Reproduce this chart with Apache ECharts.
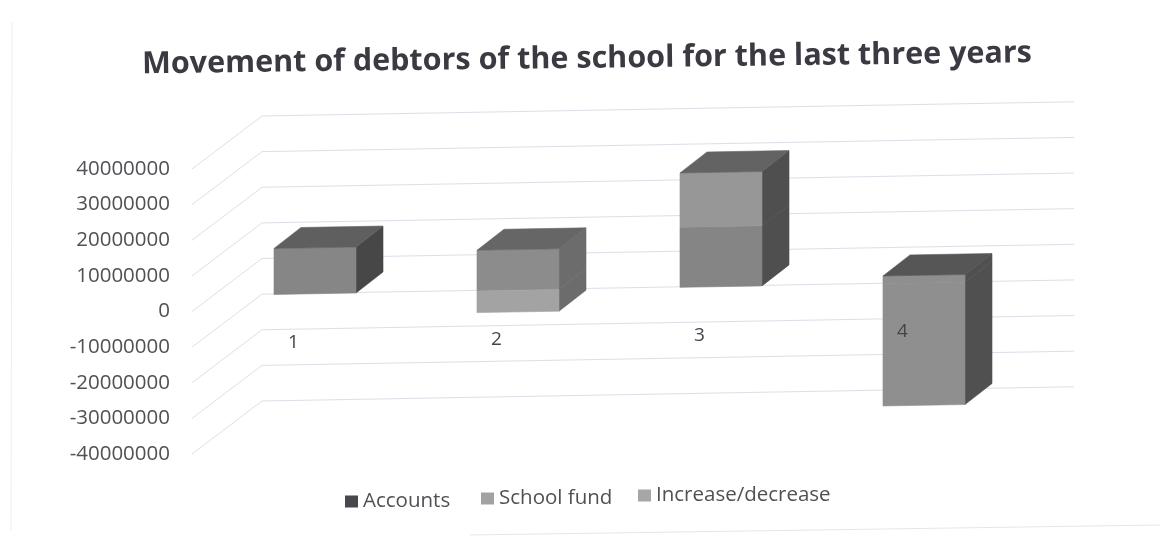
<!DOCTYPE html>
<html><head><meta charset="utf-8">
<style>html,body{margin:0;padding:0;background:#fff}#c{width:1160px;height:536px}</style>
<script src="https://cdn.jsdelivr.net/npm/echarts@6/dist/echarts.min.js"></script>
</head><body><div id="c"></div>
<script>
const titleText = 'Movement of debtors of the school for the last three years';
const categories = ['1','2','3','4'];
const accounts = [0,0,0,0];
const schoolFund = [12900000,11400000,16900000,2200000];
const increaseDecrease = [0,-6100000,15200000,-34300000];
const yTicks = [40000000,30000000,20000000,10000000,0,-10000000,-20000000,-30000000,-40000000];

const schoolFront = ['#868686','#8c8c8c','#858585','#8f8f8f'];
const increaseFront = ['#9a9a9a','#a3a3a3','#979797','#8f8f8f'];
const topFaces = ['#5f5f5f','#666666','#636363','#565656'];
const sideFaces = ['#474747','#6c6c6c','#4f4f4f','#505050'];

const FONT = '"Open Sans","Noto Sans",sans-serif';
const SKEW = 0.0175;
const WALL = [70,-53];
const NEAR = [21.5,-16];
const FAR = [48.5,-37];
const BAR_RATIO = 0.404;

const named = [
  {name:'Accounts', values:accounts, color:'#47474c', front:schoolFront},
  {name:'School fund', values:schoolFund, color:'#a2a2a5', front:schoolFront},
  {name:'Increase/decrease', values:increaseDecrease, color:'#a6a6a8', front:increaseFront}
];
const posTop = categories.map(()=>0), negBottom = categories.map(()=>0);
named.forEach(s=>{
  s.rows = s.values.map((v,i)=>{
    if(v>=0){const a=posTop[i];posTop[i]+=v;return [i,a,a+v];}
    const a=negBottom[i];negBottom[i]+=v;return [i,a,a+v];
  });
});
function renderBar(front){
  return function(params,api){
    const i=api.value(0),a=api.value(1),b=api.value(2);
    if(a===b) return null;
    const left=params.coordSys.x;
    const half=api.size([1,0])[0]*BAR_RATIO/2;
    const lo=Math.min(a,b),hi=Math.max(a,b);
    const pt=(val,dx,off)=>{
      const p=api.coord([i,val]);const x=p[0]+dx;
      return [x+off[0],p[1]-SKEW*(x-left)+off[1]];
    };
    const poly=(pts,fill)=>({type:'polygon',shape:{points:pts},style:{fill:fill,stroke:fill,lineWidth:0.6},silent:true});
    const children=[
      poly([pt(lo,half,NEAR),pt(hi,half,NEAR),pt(hi,half,FAR),pt(lo,half,FAR)],sideFaces[i]),
      poly([pt(lo,-half,NEAR),pt(hi,-half,NEAR),pt(hi,half,NEAR),pt(lo,half,NEAR)],front[i])
    ];
    if(hi===posTop[i]){
      children.push(poly([pt(hi,-half,NEAR),pt(hi,half,NEAR),pt(hi,half,FAR),pt(hi,-half,FAR)],topFaces[i]));
    }
    return {type:'group',children:children};
  };
}
const series=[{
  type:'custom',name:'walls',coordinateSystem:'cartesian2d',silent:true,clip:false,z:1,
  data:yTicks.map(t=>[0,t]),encode:{x:0,y:1},
  renderItem(params,api){
    const x0=params.coordSys.x,w=params.coordSys.width;
    const y=api.coord([0,api.value(1)])[1];
    return {type:'polyline',shape:{points:[[x0,y],[x0+WALL[0],y+WALL[1]],[x0+w+WALL[0],y+WALL[1]-SKEW*w]]},
      style:{stroke:'#dedee8',lineWidth:1,fill:null},silent:true};
  }
}];
named.forEach(s=>series.push({
  type:'custom',name:s.name,coordinateSystem:'cartesian2d',silent:true,clip:false,z:2,
  itemStyle:{color:s.color},data:s.rows,encode:{x:0,y:[1,2]},renderItem:renderBar(s.front)
}));
series.push({
  type:'custom',name:'labels',coordinateSystem:'cartesian2d',silent:true,clip:false,z:3,
  data:categories.map((c,i)=>[i,0]),encode:{x:0,y:1},
  renderItem(params,api){
    const i=api.value(0),p=api.coord([i,0]);
    return {type:'text',x:p[0],y:p[1]-SKEW*(p[0]-params.coordSys.x)+33,
      style:{text:categories[i],align:'center',verticalAlign:'middle',font:'19px '+FONT,fill:'#44444a'},silent:true};
  }
});
const legendFont={fontFamily:FONT,fontSize:20.5,color:'#505055'};
const leg=(name,left,top)=>({data:[name],left:left,top:top,orient:'horizontal',padding:0,
  itemWidth:13,itemHeight:12,icon:'rect',textStyle:legendFont,selectedMode:false});
const chart=echarts.init(document.getElementById('c'),null,{renderer:'canvas'});
chart.setOption({
  animation:false,backgroundColor:'#fff',
  grid:{left:192,top:169,width:812,height:285},
  xAxis:{type:'category',data:categories,axisLine:{show:false},axisTick:{show:false},axisLabel:{show:false},splitLine:{show:false}},
  yAxis:{type:'value',min:-40000000,max:40000000,interval:10000000,axisLine:{show:false},axisTick:{show:false},splitLine:{show:false},
    axisLabel:{margin:22,fontFamily:FONT,fontSize:20.5,color:'#505055',padding:[3,0,0,0],formatter:v=>String(v)}},
  legend:[leg('Accounts',345,491),leg('School fund',481,488),leg('Increase/decrease',638,485)],
  graphic:[
    {type:'text',x:587,y:59,rotation:0.0125,z:5,silent:true,
      style:{text:titleText,x:0,y:0,align:'center',verticalAlign:'middle',font:'bold 30.5px '+FONT,fill:'#3a3a42'}},
    {type:'line',silent:true,z:0,shape:{x1:12,y1:22,x2:11,y2:530},style:{stroke:'#eeeef2',lineWidth:1}},
    {type:'line',silent:true,z:0,shape:{x1:470,y1:535,x2:1160,y2:525},style:{stroke:'#e6e6ea',lineWidth:1}}
  ],
  series:series
});
</script></body></html>
